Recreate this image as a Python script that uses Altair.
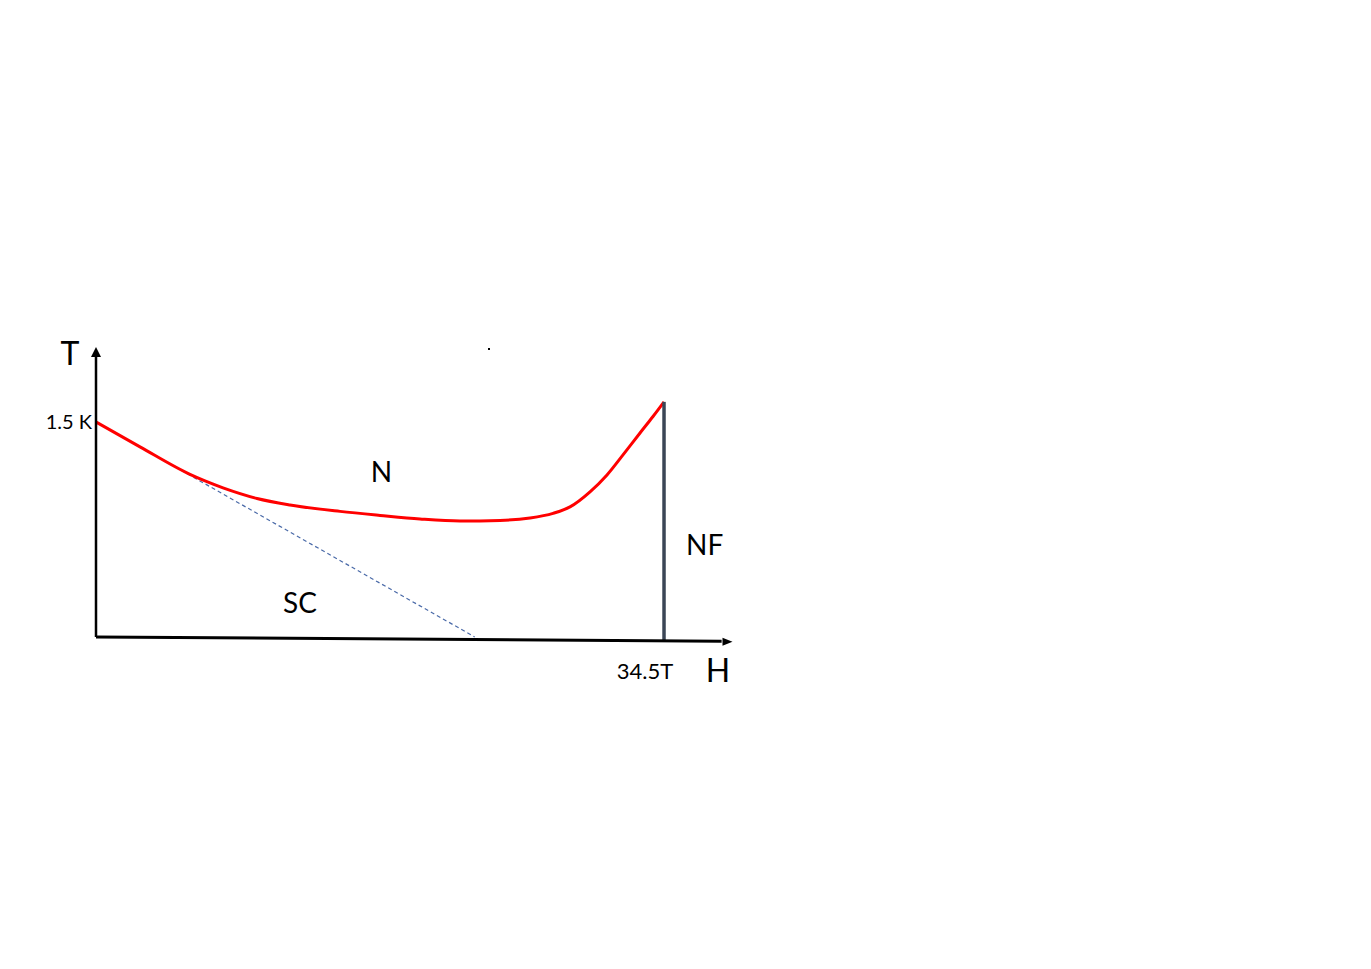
import altair as alt
import pandas as pd

# ---- data (schematic phase diagram, H in tesla, T in kelvin) ----
curve_H = [0.0, 2.672, 5.709, 6.620, 7.714, 9.779, 11.783, 14.820, 17.250, 19.679,
           22.109, 24.538, 26.360, 27.757, 28.790, 30.005, 31.037, 32.009, 33.042,
           33.831, 34.5]
curve_T = [1.500, 1.326, 1.134, 1.088, 1.040, 0.966, 0.921, 0.876, 0.848, 0.823,
           0.809, 0.813, 0.830, 0.862, 0.907, 1.012, 1.130, 1.270, 1.423,
           1.538, 1.640]

dash_H = [0.0, 23.0]
dash_T = [1.5, 0.0]

nf_H = [34.5, 34.5]
nf_T = [1.640, -0.021]

yaxis_H = [0.0, 0.0]
yaxis_T = [0.0, 1.96]
xaxis_H = [0.0, 38.0]
xaxis_T = [0.0, -0.031]

label_text = ["T", "1.5 K", "N", "SC", "NF", "34.5T", "H"]
label_H = [-1.58, -0.24, 17.34, 12.39, 36.97, 33.35, 37.78]
label_T = [1.898, 1.451, 1.081, 0.167, 0.572, -0.293, -0.314]

dot_H = [23.87]
dot_T = [2.009]

# ---- scales ----
xs = alt.Scale(domain=[-5.345, 76.955], nice=False, zero=False)
ys = alt.Scale(domain=[-2.261, 4.388], nice=False, zero=False)
X = lambda: alt.X("H:Q", scale=xs, axis=None)
Y = lambda: alt.Y("T:Q", scale=ys, axis=None)

FONT = "Lato"

def df(h, t):
    return pd.DataFrame({"H": h, "T": t})

red = alt.Chart(df(curve_H, curve_T)).mark_line(
    color="#ff0000", strokeWidth=3, interpolate="monotone"
).encode(x=X(), y=Y())

dashed = alt.Chart(df(dash_H, dash_T)).mark_line(
    color="#4a6aa8", strokeWidth=1.2, strokeDash=[4, 3]
).encode(x=X(), y=Y())

nf = alt.Chart(df(nf_H, nf_T)).mark_line(
    color="#3b4656", strokeWidth=3.5
).encode(x=X(), y=Y())

yaxis = alt.Chart(df(yaxis_H, yaxis_T)).mark_line(
    color="black", strokeWidth=2.5
).encode(x=X(), y=Y())

xaxis = alt.Chart(df(xaxis_H, xaxis_T)).mark_line(
    color="black", strokeWidth=3
).encode(x=X(), y=Y())

yarrow = alt.Chart(df([0.0], [2.023])).mark_point(
    shape="M0,0L-1,2L1,2Z", size=100, filled=True, color="black", opacity=1
).encode(x=X(), y=Y())

xarrow = alt.Chart(df([38.66], [-0.033])).mark_point(
    shape="M0,0L-2,-0.8L-2,0.8Z", size=100, filled=True, color="black", opacity=1
).encode(x=X(), y=Y())

dot = alt.Chart(df(dot_H, dot_T)).mark_square(
    size=4, color="black", opacity=1
).encode(x=X(), y=Y())

labels = pd.DataFrame({"H": label_H, "T": label_T, "txt": label_text})
sizes = {"T": 32, "1.5 K": 20, "N": 28, "SC": 28, "NF": 28, "34.5T": 22, "H": 32}
aligns = {"1.5 K": "right"}

text_layers = []
for t in label_text:
    text_layers.append(
        alt.Chart(labels[labels.txt == t]).mark_text(
            font=FONT, fontSize=sizes[t], color="black",
            align=aligns.get(t, "center"), baseline="alphabetic"
        ).encode(x=X(), y=Y(), text="txt:N")
    )

chart = alt.layer(
    dashed, red, nf, yaxis, xaxis, yarrow, xarrow, dot, *text_layers
).properties(
    width=1355, height=953,
    autosize=alt.AutoSizeParams(type="none"),
    padding=0,
    background="white",
).configure_view(stroke=None, strokeWidth=0)

chart.save("out.html", embed_options={"renderer": "svg", "actions": False})
